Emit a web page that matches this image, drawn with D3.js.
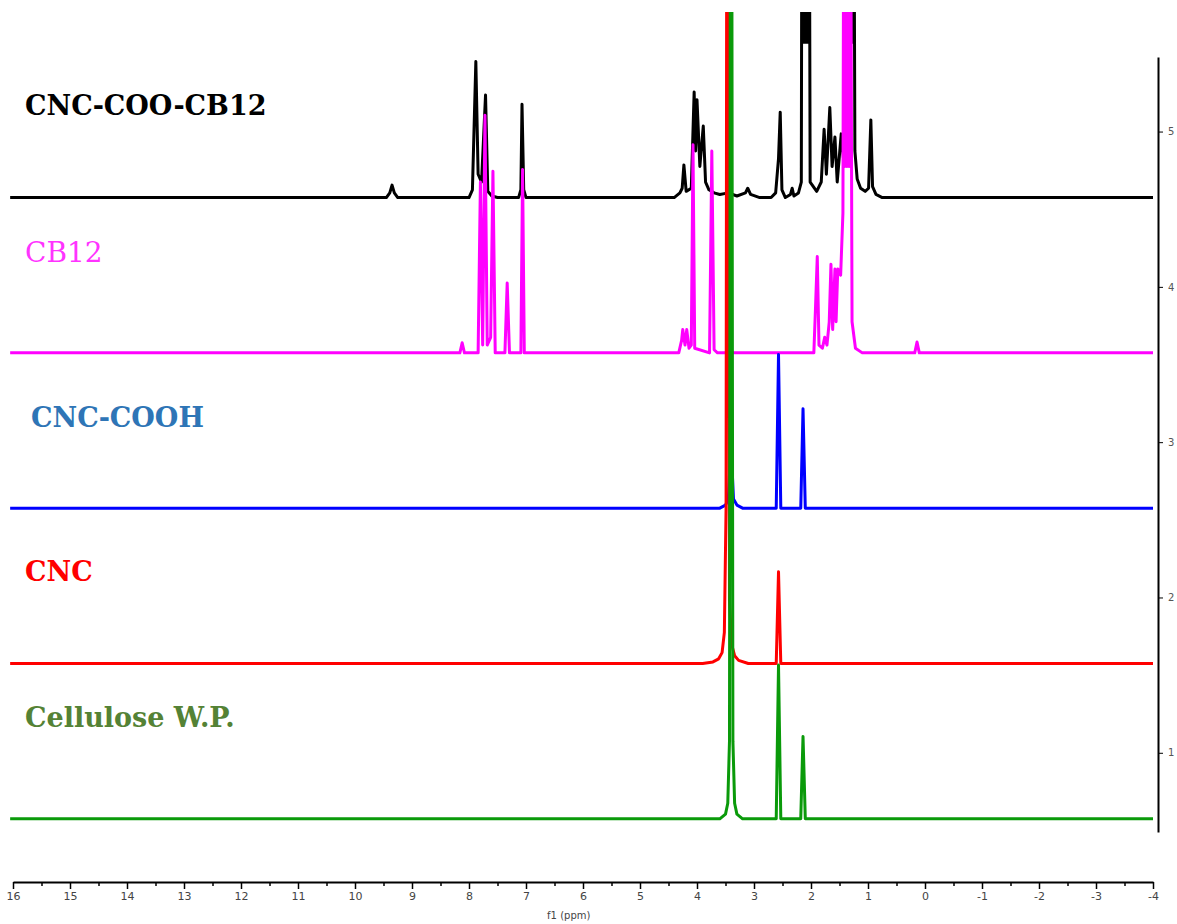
<!DOCTYPE html>
<html>
<head>
  <meta charset="utf8">
  <title>1H NMR spectra</title>
  <script src="https://d3js.org/d3.v7.min.js"></script>
  <style>
    body { margin: 0; background: #fff; }
    .lbl { font-family: "DejaVu Serif", serif; }
  </style>
</head>
<body>
<script>

  // stacked spectra, top to bottom
  var seriesNames = ["CNC-COO-CB12", "CB12", "CNC-COOH", "CNC", "Cellulose W.P."];
  var lineColors  = ["#000000", "#ff00ff", "#0000ff", "#ff0000", "#0a9a0a"];
  var labelColors = ["#000000", "#ff33ff", "#2e75b6", "#ff0000", "#548235"];
  var baselines   = [4.575, 3.575, 2.575, 1.575, 0.575];

  // [ppm, intensity above own baseline]
  var cncCooCb12 = [
    [16.05, 0], [9.45, 0], [9.39, 0.03], [9.35, 0.08], [9.31, 0.03], [9.25, 0],
    [8.0, 0], [7.94, 0.05], [7.88, 0.876], [7.84, 0.15], [7.78, 0.1], [7.71, 0.66], [7.67, 0.04], [7.6, 0.01], [7.5, 0],
    [7.13, 0], [7.09, 0.05], [7.07, 0.60], [7.04, 0.05], [7.0, 0],
    [4.4, 0], [4.3, 0.03], [4.26, 0.06], [4.23, 0.21], [4.19, 0.04], [4.1, 0.06], [4.05, 0.68], [4.025, 0.3],
    [4.0, 0.63], [3.95, 0.2], [3.89, 0.46], [3.85, 0.1], [3.79, 0.05], [3.7, 0.03], [3.6, 0.02], [3.45, 0.03],
    [3.3, 0.01], [3.15, 0.03], [3.11, 0.06], [3.06, 0.02], [2.9, 0], [2.7, 0], [2.62, 0.03], [2.57, 0.25],
    [2.54, 0.55], [2.51, 0.05], [2.45, 0], [2.36, 0.02], [2.33, 0.06], [2.3, 0.01], [2.22, 0.03],
    [2.17, 0.1], [2.155, 3], [2.14, 1.0], [2.125, 3], [2.11, 1.0], [2.095, 3], [2.08, 1.0], [2.065, 3],
    [2.05, 1.0], [2.035, 3], [2.015, 0.1], [1.9, 0.04], [1.82, 0.1], [1.77, 0.44], [1.73, 0.15], [1.67, 0.58],
    [1.63, 0.2], [1.58, 0.39], [1.54, 0.1], [1.47, 0.41], [1.43, 0.25], [1.39, 0.6], [1.375, 3],
    [1.36, 1.0], [1.345, 3], [1.33, 1.0], [1.315, 3], [1.30, 1.0], [1.285, 3], [1.27, 1.0], [1.255, 3],
    [1.23, 0.3], [1.19, 0.12], [1.13, 0.06], [1.05, 0.04], [0.99, 0.06], [0.95, 0.50], [0.92, 0.07],
    [0.86, 0.02], [0.75, 0], [-4, 0]
  ];

  var cb12 = [
    [16.05, 0], [8.16, 0], [8.12, 0.065], [8.08, 0],
    [7.84, 0], [7.80, 1.1], [7.76, 0.05], [7.72, 1.53], [7.68, 0.05], [7.62, 0.1], [7.58, 1.17], [7.54, 0],
    [7.37, 0], [7.33, 0.45], [7.29, 0],
    [7.09, 0], [7.06, 1.18], [7.03, 0],
    [4.32, 0], [4.27, 0.08], [4.25, 0.15], [4.21, 0.05], [4.18, 0.15], [4.14, 0.03], [4.10, 0.05],
    [4.07, 1.34], [4.04, 0.03], [3.78, 0], [3.74, 1.30], [3.70, 0.02], [3.64, 0],
    [1.95, 0], [1.92, 0.3], [1.89, 0.62], [1.86, 0.05], [1.80, 0.03], [1.76, 0.1], [1.72, 0.05],
    [1.68, 0.2], [1.65, 0.57], [1.62, 0.15], [1.58, 0.54], [1.56, 0.2], [1.53, 0.54], [1.48, 0.5],
    [1.44, 0.9], [1.425, 3.2], [1.41, 1.2], [1.395, 3.2], [1.38, 1.2], [1.365, 3.2], [1.35, 1.2],
    [1.335, 3.2], [1.32, 1.2], [1.305, 3.2], [1.28, 0.2], [1.22, 0.03], [1.1, 0],
    [0.18, 0], [0.14, 0.07], [0.10, 0], [-4, 0]
  ];

  var cncCooh = [
    [16.05, 0], [3.6, 0], [3.5, 0.02], [3.45, 0.06], [3.42, 0.3], [3.405, 2.5], [3.39, 0.3],
    [3.36, 0.06], [3.3, 0.02], [3.2, 0],
    [2.61, 0], [2.57, 0.99], [2.53, 0], [2.18, 0], [2.14, 0.64], [2.10, 0], [-4, 0]
  ];

  var cnc = [
    [16.05, 0], [3.9, 0], [3.72, 0.01], [3.62, 0.03], [3.56, 0.07], [3.52, 0.2], [3.49, 1.0], [3.475, 6],
    [3.455, 6], [3.43, 0.4], [3.39, 0.12], [3.34, 0.05], [3.27, 0.02], [3.1, 0],
    [2.61, 0], [2.57, 0.59], [2.53, 0], [-4, 0]
  ];

  var celluloseWP = [
    [16.05, 0], [3.6, 0], [3.5, 0.03], [3.46, 0.1], [3.43, 0.5], [3.415, 6], [3.39, 6],
    [3.37, 0.5], [3.34, 0.1], [3.3, 0.03], [3.2, 0],
    [2.61, 0], [2.57, 0.99], [2.53, 0], [2.18, 0], [2.14, 0.53], [2.10, 0], [-4, 0]
  ];

  var allSeries = [cncCooCb12, cb12, cncCooh, cnc, celluloseWP];

  var xMajorTicks = d3.range(16, -4.5, -1);
  var xMinorTicks = d3.range(15.5, -4, -1);
  var yTicks = [1, 2, 3, 4, 5];

  var width = 1177, height = 924;

  var svg = d3.select("body").append("svg")
      .attr("width", width)
      .attr("height", height);

  var x = d3.scaleLinear().domain([16, -4]).range([13, 1153]);
  var y = d3.scaleLinear().domain([0.49, 5.48]).range([832, 57]);

  svg.append("clipPath")
     .attr("id", "clip")
     .append("rect")
     .attr("x", 0).attr("y", 12)
     .attr("width", 1156).attr("height", 860);

  var line = d3.line()
      .x(function(d) { return x(d[0]); })
      .y(function(d) { return y(d[1]); });

  var g = svg.append("g").attr("clip-path", "url(#clip)");

  allSeries.forEach(function(s, i) {
    var pts = s.map(function(d) { return [d[0], d[1] + baselines[i]]; });
    g.append("path")
     .datum(pts)
     .attr("fill", "none")
     .attr("stroke", lineColors[i])
     .attr("stroke-width", 3)
     .attr("stroke-linejoin", "round")
     .attr("d", line);
  });

  // sample names
  var labelPos = [[25, -83], [25, -91], [31, -81], [25, -82], [25, -92]];
  seriesNames.forEach(function(name, i) {
    svg.append("text")
       .attr("class", "lbl")
       .attr("x", labelPos[i][0])
       .attr("y", y(baselines[i]) + labelPos[i][1])
       .attr("fill", labelColors[i])
       .attr("font-size", i == 1 ? 28 : 27)
       .attr("font-weight", i == 1 ? "normal" : "bold")
       .text(name);
  });

  // x axis (ppm)
  var xAxisY = 882;
  var gx = svg.append("g")
     .attr("transform", "translate(0," + xAxisY + ")")
     .call(d3.axisBottom(x).tickValues(xMajorTicks).tickSize(7).tickSizeOuter(0)
           .tickFormat(function(d) { return String(d); }));
  gx.select(".domain").attr("stroke-width", 2);
  gx.selectAll(".tick line").attr("stroke-width", 1.5);
  gx.selectAll("text").attr("font-family", "DejaVu Sans").attr("font-size", 11).attr("fill", "#444");

  var gxm = svg.append("g")
     .attr("transform", "translate(0," + xAxisY + ")")
     .call(d3.axisBottom(x).tickValues(xMinorTicks).tickSize(4).tickSizeOuter(0).tickFormat(""));
  gxm.select(".domain").remove();
  gxm.selectAll(".tick line").attr("stroke-width", 1.5);

  svg.append("text")
     .attr("x", x(6.25))
     .attr("y", 919)
     .attr("text-anchor", "middle")
     .attr("font-family", "DejaVu Sans")
     .attr("font-size", 10)
     .attr("fill", "#444")
     .text("f1 (ppm)");

  // right intensity axis
  var gy = svg.append("g")
     .attr("transform", "translate(1158,0)")
     .call(d3.axisRight(y).tickValues(yTicks).tickSize(5).tickSizeOuter(0).tickPadding(5)
           .tickFormat(function(d) { return String(d); }));
  gy.select(".domain").attr("stroke-width", 2);
  gy.selectAll("text").attr("font-family", "DejaVu Sans").attr("font-size", 10).attr("fill", "#555");

</script>
</body>
</html>
